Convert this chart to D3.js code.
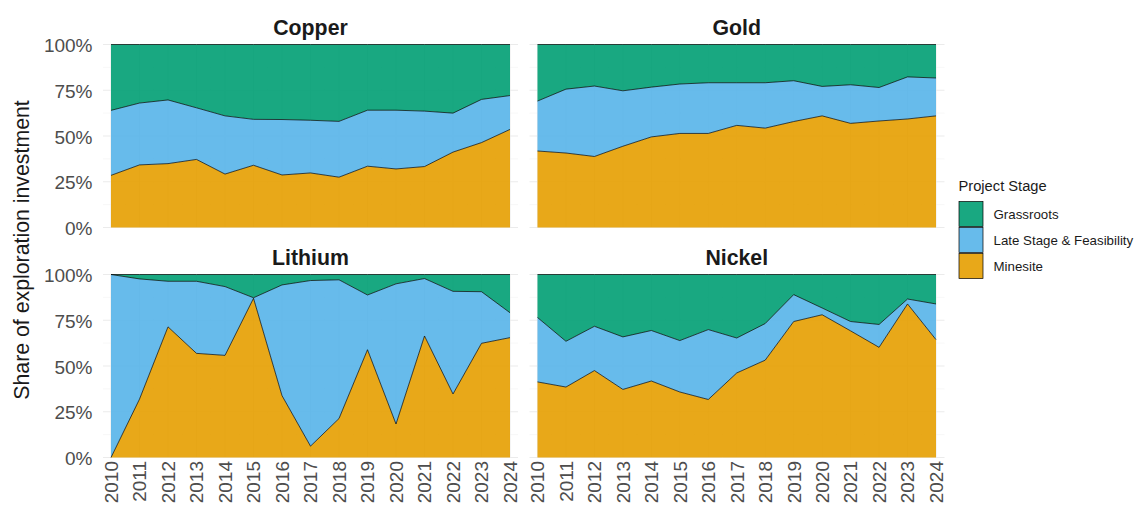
<!DOCTYPE html>
<html>
<head>
<meta charset="utf-8">
<script src="https://cdn.jsdelivr.net/npm/d3@7"></script>
<style>
  html, body { margin: 0; padding: 0; background: #fff; }
  text { font-family: "Liberation Sans", Arial, sans-serif; }
</style>
</head>
<body>
<svg id="chart" width="1138" height="515"></svg>
<script>
// ---------------- DATA ----------------
const years = [2010, 2011, 2012, 2013, 2014, 2015, 2016, 2017, 2018, 2019, 2020, 2021, 2022, 2023, 2024];
const minerals = ["Copper", "Gold", "Lithium", "Nickel"];
const stages = ["Grassroots", "Late Stage & Feasibility", "Minesite"];
const yTickValues = [0, 0.25, 0.5, 0.75, 1];
const yTickLabels = ["0%", "25%", "50%", "75%", "100%"];

const copperMinesite = [0.285, 0.342, 0.349, 0.372, 0.292, 0.340, 0.287, 0.298, 0.275, 0.335, 0.320, 0.333, 0.412, 0.464, 0.536];
const copperLate     = [0.355, 0.338, 0.348, 0.282, 0.318, 0.251, 0.303, 0.288, 0.305, 0.306, 0.321, 0.303, 0.213, 0.236, 0.185];
const copperGrass    = [0.360, 0.320, 0.303, 0.346, 0.390, 0.409, 0.410, 0.414, 0.420, 0.359, 0.359, 0.364, 0.375, 0.300, 0.279];

const goldMinesite = [0.418, 0.407, 0.388, 0.444, 0.495, 0.514, 0.514, 0.558, 0.543, 0.579, 0.610, 0.569, 0.582, 0.593, 0.610];
const goldLate     = [0.273, 0.349, 0.385, 0.303, 0.272, 0.270, 0.277, 0.233, 0.248, 0.223, 0.161, 0.211, 0.183, 0.230, 0.207];
const goldGrass    = [0.309, 0.244, 0.227, 0.253, 0.233, 0.216, 0.209, 0.209, 0.209, 0.198, 0.229, 0.220, 0.235, 0.177, 0.183];

const lithiumMinesite = [0.000, 0.319, 0.714, 0.569, 0.558, 0.870, 0.338, 0.062, 0.213, 0.589, 0.183, 0.664, 0.347, 0.624, 0.655];
const lithiumLate     = [1.000, 0.657, 0.249, 0.394, 0.376, 0.003, 0.605, 0.905, 0.758, 0.299, 0.766, 0.314, 0.561, 0.282, 0.136];
const lithiumGrass    = [0.000, 0.024, 0.037, 0.037, 0.066, 0.127, 0.057, 0.033, 0.029, 0.112, 0.051, 0.022, 0.092, 0.094, 0.209];

const nickelMinesite = [0.413, 0.385, 0.475, 0.372, 0.418, 0.358, 0.317, 0.462, 0.532, 0.743, 0.780, 0.692, 0.602, 0.839, 0.644];
const nickelLate     = [0.352, 0.250, 0.242, 0.287, 0.276, 0.281, 0.382, 0.191, 0.200, 0.147, 0.037, 0.051, 0.125, 0.027, 0.195];
const nickelGrass    = [0.235, 0.365, 0.283, 0.341, 0.306, 0.361, 0.301, 0.347, 0.268, 0.110, 0.183, 0.257, 0.273, 0.134, 0.161];

const seriesByMineral = {
  "Copper":  {"Grassroots": copperGrass,  "Late Stage & Feasibility": copperLate,  "Minesite": copperMinesite},
  "Gold":    {"Grassroots": goldGrass,    "Late Stage & Feasibility": goldLate,    "Minesite": goldMinesite},
  "Lithium": {"Grassroots": lithiumGrass, "Late Stage & Feasibility": lithiumLate, "Minesite": lithiumMinesite},
  "Nickel":  {"Grassroots": nickelGrass,  "Late Stage & Feasibility": nickelLate,  "Minesite": nickelMinesite}
};

// ---------------- STYLE / LAYOUT ----------------
const colors = {"Grassroots": "#009E73", "Late Stage & Feasibility": "#56B4E9", "Minesite": "#E69F00"};
const fillOpacity = 0.9;

const panels = [
  {mineral: "Copper",  x0: 111,   x1: 510, y0: 227.5, y1: 44.5,  gx0: 103,   gx1: 518,   row: 0, col: 0},
  {mineral: "Gold",    x0: 537.5, x1: 936, y0: 227.5, y1: 44.5,  gx0: 529.5, gx1: 944.5, row: 0, col: 1},
  {mineral: "Lithium", x0: 111,   x1: 510, y0: 457.5, y1: 274.5, gx0: 103,   gx1: 518,   row: 1, col: 0},
  {mineral: "Nickel",  x0: 537.5, x1: 936, y0: 457.5, y1: 274.5, gx0: 529.5, gx1: 944.5, row: 1, col: 1}
];

const svg = d3.select("#chart");

// stacking order: Minesite at bottom, then Late Stage, then Grassroots
const stackKeys = ["Minesite", "Late Stage & Feasibility", "Grassroots"];

panels.forEach(p => {
  const x = d3.scaleLinear().domain([2010, 2024]).range([p.x0, p.x1]);
  const y = d3.scaleLinear().domain([0, 1]).range([p.y0, p.y1]);
  const g = svg.append("g");

  // minor grid (horizontal)
  const minorY = [0.125, 0.375, 0.625, 0.875];
  g.selectAll(".minory").data(minorY).enter().append("line")
    .attr("x1", p.gx0).attr("x2", p.gx1)
    .attr("y1", d => y(d)).attr("y2", d => y(d))
    .attr("stroke", "#f3f3f3").attr("stroke-width", 0.6);
  // major grid (horizontal)
  g.selectAll(".majory").data(yTickValues).enter().append("line")
    .attr("x1", p.gx0).attr("x2", p.gx1)
    .attr("y1", d => y(d)).attr("y2", d => y(d))
    .attr("stroke", "#ebebeb").attr("stroke-width", 1.1);
  // vertical grid (shows faintly through semi-transparent fill)
  const halfYears = d3.range(2010.5, 2024, 1);
  g.selectAll(".minorx").data(halfYears).enter().append("line")
    .attr("x1", d => x(d)).attr("x2", d => x(d))
    .attr("y1", p.y0).attr("y2", p.y1)
    .attr("stroke", "#f3f3f3").attr("stroke-width", 0.6);
  g.selectAll(".majorx").data(years).enter().append("line")
    .attr("x1", d => x(d)).attr("x2", d => x(d))
    .attr("y1", p.y0).attr("y2", p.y1)
    .attr("stroke", "#ebebeb").attr("stroke-width", 1.1);

  // data
  const s = seriesByMineral[p.mineral];
  const rows = years.map((yr, i) => {
    const r = {year: yr};
    stages.forEach(k => r[k] = s[k][i]);
    return r;
  });
  const stacked = d3.stack().keys(stackKeys)(rows);

  const area = d3.area()
    .x(d => x(d.data.year))
    .y0(d => y(d[0]))
    .y1(d => y(d[1]));
  const upper = d3.line()
    .x(d => x(d.data.year))
    .y(d => y(d[1]));

  g.selectAll(".area").data(stacked).enter().append("path")
    .attr("d", area)
    .attr("fill", d => colors[d.key])
    .attr("fill-opacity", fillOpacity)
    .attr("stroke", "none");
  g.selectAll(".upper").data(stacked).enter().append("path")
    .attr("d", upper)
    .attr("fill", "none")
    .attr("stroke", "#000")
    .attr("stroke-width", 0.7);

  // strip title
  g.append("text")
    .attr("x", (p.x0 + p.x1) / 2)
    .attr("y", p.y1 - 9.5)
    .attr("text-anchor", "middle")
    .attr("font-size", "21.3px")
    .attr("font-weight", "bold")
    .attr("fill", "#1a1a1a")
    .text(p.mineral);

  // y tick labels (left column only)
  if (p.col === 0) {
    g.selectAll(".ytick").data(yTickValues).enter().append("text")
      .attr("x", 92.5)
      .attr("y", d => y(d))
      .attr("dy", "0.4em")
      .attr("text-anchor", "end")
      .attr("font-size", "19px")
      .attr("fill", "#4d4d4d")
      .text((d, i) => yTickLabels[i]);
  }
  // x tick labels (bottom row only)
  if (p.row === 1) {
    g.selectAll(".xtick").data(years).enter().append("text")
      .attr("transform", d => `translate(${x(d)},461) rotate(-90)`)
      .attr("dy", "0.36em")
      .attr("text-anchor", "end")
      .attr("font-size", "19px")
      .attr("fill", "#4d4d4d")
      .text(d => String(d));
  }
});

// y axis title
svg.append("text")
  .attr("transform", "translate(29,250) rotate(-90)")
  .attr("text-anchor", "middle")
  .attr("font-size", "21.3px")
  .attr("fill", "#1a1a1a")
  .text("Share of exploration investment");

// legend
const legend = svg.append("g");
legend.append("text")
  .attr("x", 958.5).attr("y", 191)
  .attr("font-size", "14.7px")
  .attr("fill", "#1a1a1a")
  .text("Project Stage");
stages.forEach((k, i) => {
  const top = 201.5 + i * 26;
  legend.append("rect")
    .attr("x", 959).attr("y", top)
    .attr("width", 24).attr("height", 25)
    .attr("fill", colors[k]).attr("fill-opacity", fillOpacity)
    .attr("stroke", "#000").attr("stroke-width", 0.7);
  legend.append("text")
    .attr("x", 993.5).attr("y", top + 12.5)
    .attr("dy", "0.35em")
    .attr("font-size", "13.3px")
    .attr("fill", "#1a1a1a")
    .text(k);
});
</script>
</body>
</html>
